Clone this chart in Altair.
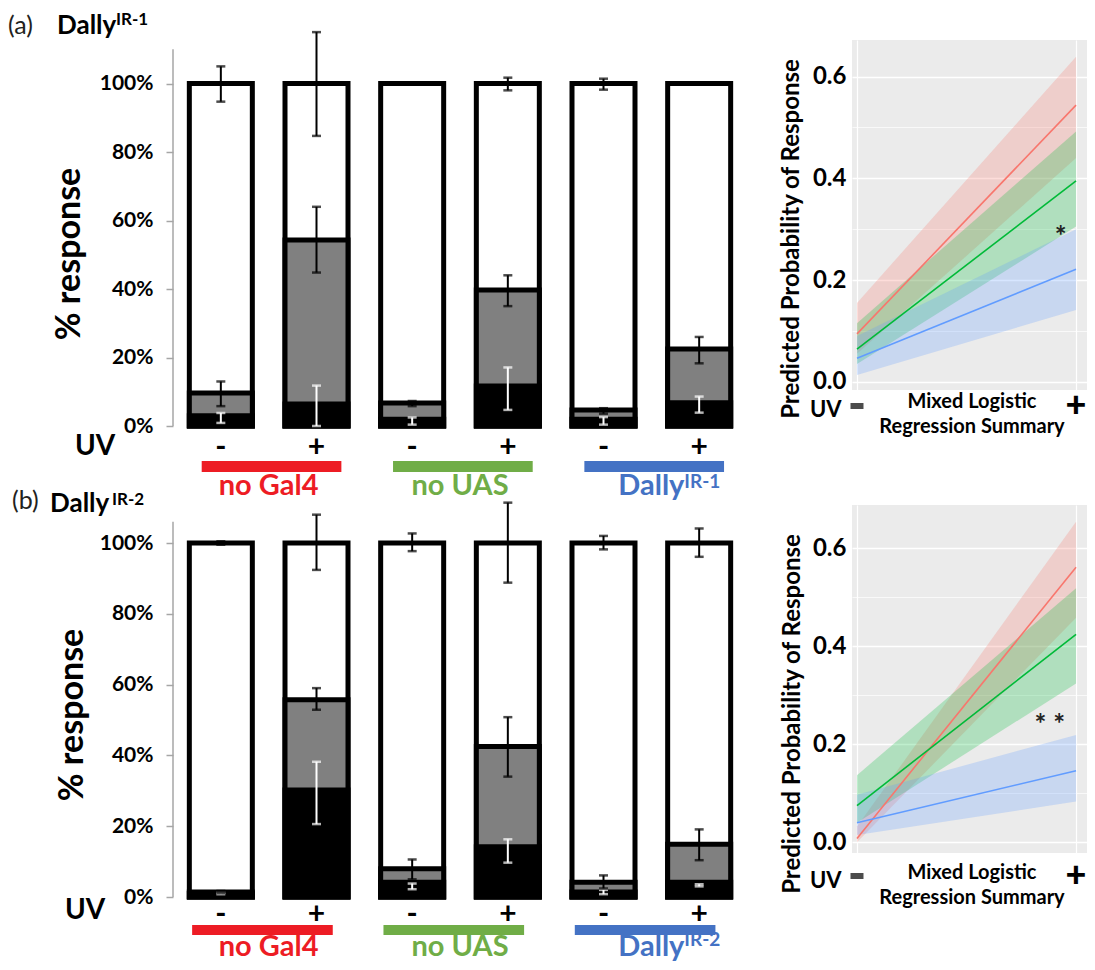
import altair as alt
import pandas as pd

FONT = "Lato"

# ---------------- data ----------------
cats = ["no Gal4|-", "no Gal4|+", "no UAS|-", "no UAS|+", "Dally|-", "Dally|+"]
groups = ["no Gal4", "no UAS", "Dally"]
group_first = ["no Gal4|-", "no UAS|-", "Dally|-"]
group_second = ["no Gal4|+", "no UAS|+", "Dally|+"]
group_colors = ["#ED1C24", "#70AD47", "#4472C4"]
group_sup_a = ["", "", "IR-1"]
group_sup_b = ["", "", "IR-2"]

# (a) Dally IR-1 : cumulative response fractions
a_black = [0.030, 0.064, 0.020, 0.117, 0.020, 0.068]
a_gray = [0.096, 0.543, 0.067, 0.397, 0.047, 0.225]
a_gray_lo = [0.058, 0.448, 0.058, 0.350, 0.036, 0.183]
a_gray_hi = [0.130, 0.640, 0.073, 0.440, 0.052, 0.260]
a_black_lo = [0.009, 0.000, 0.004, 0.047, 0.004, 0.039]
a_black_hi = [0.038, 0.118, 0.025, 0.171, 0.026, 0.086]
a_top_lo = [0.947, 0.847, 1.000, 0.980, 0.982, 1.000]
a_top_hi = [1.050, 1.150, 1.000, 1.017, 1.014, 1.000]

# (b) Dally IR-2
b_black = [0.010, 0.302, 0.042, 0.142, 0.014, 0.042]
b_gray = [0.014, 0.557, 0.080, 0.425, 0.042, 0.149]
b_gray_lo = [0.011, 0.529, 0.050, 0.340, 0.024, 0.104]
b_gray_hi = [0.017, 0.590, 0.106, 0.508, 0.061, 0.191]
b_black_lo = [0.008, 0.206, 0.022, 0.097, 0.008, 0.030]
b_black_hi = [0.012, 0.382, 0.038, 0.163, 0.020, 0.036]
b_top_lo = [0.995, 0.924, 0.977, 0.888, 0.982, 0.961]
b_top_hi = [1.005, 1.080, 1.027, 1.114, 1.020, 1.041]

# regression summaries (UV - = 0, UV + = 1)
reg_x = [0, 1]
a_red_fit, a_red_lo, a_red_hi = [0.094, 0.544], [0.055, 0.440], [0.155, 0.639]
a_grn_fit, a_grn_lo, a_grn_hi = [0.064, 0.395], [0.035, 0.305], [0.115, 0.492]
a_blu_fit, a_blu_lo, a_blu_hi = [0.046, 0.221], [0.013, 0.141], [0.090, 0.300]
b_red_fit, b_red_lo, b_red_hi = [0.008, 0.561], [0.000, 0.458], [0.032, 0.654]
b_grn_fit, b_grn_lo, b_grn_hi = [0.075, 0.424], [0.040, 0.324], [0.137, 0.518]
b_blu_fit, b_blu_lo, b_blu_hi = [0.040, 0.146], [0.015, 0.083], [0.097, 0.219]

reg_colors = ["#F8766D", "#00BA38", "#619CFF"]


def txt(text, x, y, size, weight="bold", color="black", align="left",
        baseline="alphabetic", angle=0):
    return alt.Chart(pd.DataFrame({"t": [text]})).mark_text(
        font=FONT, fontSize=size, fontWeight=weight, color=color, align=align,
        baseline=baseline, angle=angle
    ).encode(text="t:N", x=alt.value(x), y=alt.value(y))


def bar_panel(black, gray, glo, ghi, blo, bhi, tlo, thi, sups, L):
    W = 574
    H = L["height"]
    df = pd.DataFrame({"cat": cats, "zero": [0.0] * 6, "one": [1.0] * 6,
                       "black": black, "gray": gray})
    xs = alt.Scale(domain=cats, paddingInner=0, paddingOuter=0)
    ys = alt.Scale(domain=[0, L["ymax"]], nice=False, zero=False)
    base = alt.Chart(df)
    white = base.mark_bar(fill="white", stroke="black", strokeWidth=5, width=63).encode(
        x=alt.X("cat:N", scale=xs, sort=cats, title=None,
                axis=alt.Axis(labelExpr="slice(datum.label, -1)", labelAngle=0,
                              domain=False, ticks=False, tickSize=0,
                              labelFont=FONT, labelFontSize=30, labelFontWeight="bold",
                              labelColor="black", labelBaseline="middle",
                              labelPadding=L["xlabpad"])),
        y=alt.Y("zero:Q", scale=ys, title=None,
                axis=alt.Axis(values=[0, 0.2, 0.4, 0.6, 0.8, 1.0], format=".0%",
                              labelFont=FONT, labelFontSize=21, labelFontWeight="bold",
                              labelColor="black", tickColor="#A6A6A6", tickSize=7,
                              tickWidth=1.5, domain=False, grid=False, labelPadding=13)),
        y2="one:Q",
    )
    grayb = base.mark_bar(fill="#808080", stroke="black", strokeWidth=5, width=63).encode(
        x="cat:N", y="zero:Q", y2="gray:Q")
    blackb = base.mark_bar(fill="black", stroke="black", strokeWidth=5, width=63).encode(
        x="cat:N", y="zero:Q", y2="black:Q")

    err_rows, cap_rows = [], []
    for i, c in enumerate(cats):
        for lo, hi, col in [(blo[i], bhi[i], "white"), (glo[i], ghi[i], "black"),
                            (tlo[i], thi[i], "black")]:
            if hi > lo:
                err_rows.append({"cat": c, "lo": lo, "hi": hi, "col": col})
                cap_rows.append({"cat": c, "v": lo, "col": col})
                cap_rows.append({"cat": c, "v": hi, "col": col})
    erule = alt.Chart(pd.DataFrame(err_rows)).mark_rule(strokeWidth=2).encode(
        x="cat:N", y="lo:Q", y2="hi:Q", color=alt.Color("col:N", scale=None))
    ecap = alt.Chart(pd.DataFrame(cap_rows)).mark_tick(thickness=2.5, size=9).encode(
        x="cat:N", y="v:Q", color=alt.Color("col:N", scale=None))

    axisline = alt.Chart(pd.DataFrame({"a": [0]})).mark_rule(
        color="#A6A6A6", strokeWidth=1.5).encode(
        x=alt.value(0), y=alt.datum(0), y2=alt.datum(L["axis_top"]))

    gdf = pd.DataFrame({"name": groups, "c1": group_first, "c2": group_second,
                        "color": group_colors, "sup": sups})
    gbar = alt.Chart(gdf).mark_rule(strokeWidth=L["gbar_w"]).encode(
        x=alt.X("c1:N", bandPosition=L["gb0"]),
        x2=alt.X2("c2:N", bandPosition=L["gb1"]),
        y=alt.value(L["gbar_y"]),
        color=alt.Color("color:N", scale=None))
    glab = alt.Chart(gdf).mark_text(font=FONT, fontSize=29, fontWeight="bold",
                                    align="center", baseline="alphabetic").encode(
        x=alt.X("c1:N", bandPosition=1.0), y=alt.value(L["glab_y"]), text="name:N",
        color=alt.Color("color:N", scale=None))
    gsup = alt.Chart(gdf).transform_filter("datum.sup != ''").mark_text(
        font=FONT, fontSize=19, fontWeight="bold", align="left", baseline="alphabetic",
        dx=33).encode(
        x=alt.X("c1:N", bandPosition=1.0), y=alt.value(L["gsup_y"]), text="sup:N",
        color=alt.Color("color:N", scale=None))

    texts = [
        txt(L["letter"], L["let_x"], L["let_y"], 25, weight="normal", color="#231F20"),
        txt("Dally", L["d_x"], L["d_y"], 26),
        txt(L["title_sup"], L["s_x"], L["s_y"], 17),
        txt("% response", L["r_x"], L["r_y"], 34, align="center", baseline="middle", angle=270),
        txt("UV", L["uv_x"], L["uv_y"], 28, baseline="middle"),
    ]
    return alt.layer(axisline, white, grayb, blackb, erule, ecap, gbar, glab, gsup,
                     *texts).properties(width=W, height=H)


def reg_panel(fits, L):
    rows = []
    for g, (fit, lo, hi) in zip(groups, fits):
        for j, xv in enumerate(reg_x):
            rows.append({"grp": g, "x": xv, "fit": fit[j], "lo": lo[j], "hi": hi[j]})
    df = pd.DataFrame(rows)
    xs = alt.Scale(domain=[-0.0228, 1.050], nice=False, zero=False)
    ys = alt.Scale(domain=[L["ymin"], L["ymax"]], nice=False, zero=False)
    cs = alt.Scale(domain=groups, range=reg_colors)
    base = alt.Chart(df)
    band = base.mark_area(opacity=0.25).encode(
        x=alt.X("x:Q", scale=xs, title=None,
                axis=alt.Axis(values=[0, 1], labels=False, ticks=False, domain=False,
                              grid=True, gridColor="white", gridWidth=1.2)),
        y=alt.Y("lo:Q", scale=ys, title=None,
                axis=alt.Axis(values=[0, 0.1, 0.2, 0.3, 0.4, 0.5, 0.6],
                              labelExpr="round(datum.value*10)%2==0 ? format(datum.value, '.1f') : ''",
                              ticks=False, domain=False, grid=True, gridColor="white",
                              gridWidth={"condition": {"test": "round(datum.value*10)%2==1",
                                                       "value": 0.7}, "value": 1.5},
                              labelFont=FONT, labelFontSize=24, labelFontWeight="bold",
                              labelColor="black", labelPadding=6)),
        y2="hi:Q",
        color=alt.Color("grp:N", scale=cs, legend=None),
    )
    line = base.mark_line(strokeWidth=1.6).encode(
        x="x:Q", y="fit:Q", color=alt.Color("grp:N", scale=cs, legend=None))
    minus = alt.Chart(pd.DataFrame({"a": [0]})).mark_tick(
        orient="horizontal", size=13, thickness=6, color="black").encode(
        x=alt.datum(0), y=alt.value(L["pm_y"]))
    plus = alt.Chart(pd.DataFrame({"t": ["+"]})).mark_text(
        font=FONT, fontSize=36, fontWeight=900, color="black", align="center",
        baseline="middle").encode(text="t:N", x=alt.datum(1), y=alt.value(L["pm_y"]))
    star = alt.Chart(pd.DataFrame({"t": [L["star"]]})).mark_text(
        font=FONT, fontSize=28, fontWeight="bold", color="#222222", align="center",
        baseline="middle", dy=6).encode(text="t:N", x=alt.datum(L["star_x"]),
                                        y=alt.datum(L["star_y"]))
    texts = [
        txt("Predicted Probability of Response", L["t_x"], L["t_y"], 24, align="center",
            baseline="middle", angle=270),
        txt("UV", -42, L["uv_y"], 22, baseline="middle"),
        txt("Mixed Logistic", 120, L["m1_y"], 20, align="center", baseline="middle"),
        txt("Regression Summary", 120, L["m2_y"], 20, align="center", baseline="middle"),
    ]
    return alt.layer(band, line, minus, plus, star, *texts).properties(
        width=235, height=L["height"],
        view=alt.ViewBackground(fill="#EBEBEB", stroke=None))


LA = dict(height=386, ymax=386 / 342.5, axis_top=1.10, xlabpad=21,
          gb0=0.30, gb1=0.76, gbar_y=426.5, gbar_w=11, glab_y=455, gsup_y=448,
          letter="(a)", let_x=-165, let_y=-6, d_x=-116, d_y=-6,
          title_sup="IR-1", s_x=-57, s_y=-15, r_x=-103, r_y=214, uv_x=-98, uv_y=407)
LB = dict(height=392, ymax=392 / 354.0, axis_top=1.06, xlabpad=17,
          gb0=0.20, gb1=0.67, gbar_y=425, gbar_w=10, glab_y=451, gsup_y=441,
          letter="(b)", let_x=-161, let_y=4, d_x=-123, d_y=7,
          title_sup="IR-2", s_x=-61, s_y=0, r_x=-100, r_y=210, uv_x=-108, uv_y=406)

RA = dict(height=350, ymin=-0.0163, ymax=0.672, pm_y=366, uv_y=370, m1_y=362, m2_y=387,
          t_x=-60, t_y=199, star="*", star_x=0.93, star_y=0.295)
RB = dict(height=348, ymin=-0.0218, ymax=0.688, pm_y=371, uv_y=376, m1_y=368, m2_y=393,
          t_x=-59, t_y=209, star="* *", star_x=0.88, star_y=0.25)

bar_a = bar_panel(a_black, a_gray, a_gray_lo, a_gray_hi, a_black_lo, a_black_hi,
                  a_top_lo, a_top_hi, group_sup_a, LA)
bar_b = bar_panel(b_black, b_gray, b_gray_lo, b_gray_hi, b_black_lo, b_black_hi,
                  b_top_lo, b_top_hi, group_sup_b, LB)
reg_a = reg_panel([(a_red_fit, a_red_lo, a_red_hi), (a_grn_fit, a_grn_lo, a_grn_hi),
                   (a_blu_fit, a_blu_lo, a_blu_hi)], RA)
reg_b = reg_panel([(b_red_fit, b_red_lo, b_red_hi), (b_grn_fit, b_grn_lo, b_grn_hi),
                   (b_blu_fit, b_blu_lo, b_blu_hi)], RB)

chart = alt.concat(bar_a, reg_a, bar_b, reg_b, columns=2,
                   spacing={"row": 79, "column": 105}, bounds="flush", align="each").properties(
    padding={"left": 0, "top": 3, "right": 0, "bottom": 0}
).configure_view(stroke=None)

chart.save("out.html", embed_options={"renderer": "svg", "actions": False})
